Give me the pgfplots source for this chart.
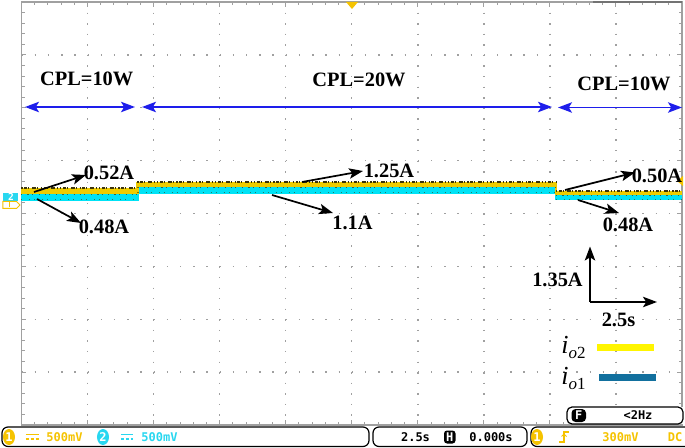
\documentclass[border=0pt]{standalone}
\usepackage{pgfplots}
\pgfplotsset{compat=1.18}
\usepackage{fontspec}
\setmainfont{Liberation Serif}
\newfontfamily\scopefont{DejaVu Sans Mono}
\usetikzlibrary{arrows.meta}
\definecolor{trY}{RGB}{238,204,0}
\definecolor{trC}{RGB}{0,226,245}
\definecolor{trD}{RGB}{60,52,10}
\definecolor{arB}{RGB}{30,30,235}
\definecolor{legY}{RGB}{255,245,0}
\definecolor{legB}{RGB}{18,112,158}
\definecolor{stY}{RGB}{245,195,0}
\definecolor{stC}{RGB}{40,215,240}
\definecolor{gridG}{RGB}{160,160,160}
\tikzset{
  lbl/.style={font=\fontsize{10.2}{12}\selectfont\bfseries, inner sep=0pt},
  blk/.style={-{Stealth[length=7pt,width=5.2pt,inset=1.6pt]}, line width=0.85pt, black},
  blu/.style={{Stealth[length=7pt,width=5.2pt,inset=1.6pt]}-{Stealth[length=7pt,width=5.2pt,inset=1.6pt]}, line width=0.85pt, arB},
  mono/.style={font=\scopefont\bfseries\fontsize{6}{6}\selectfont, inner sep=0pt},
}
\newcommand{\dcsym}[3]{%
  \draw[#1, line width=0.8pt] (axis cs:#2,434.5) -- (axis cs:#3,434.5);
  \draw[#1, line width=0.8pt, dash pattern=on 1.6pt off 0.8pt] (axis cs:#2,439) -- (axis cs:#3,439);}
\begin{document}
\begin{tikzpicture}
\fill[white] (0,0) rectangle (342.5pt,224pt);
\begin{axis}[
  at={(10.75pt,11.5pt)}, anchor=south west,
  scale only axis, width=330.25pt, height=211.5pt,
  xmin=21.5, xmax=682, ymin=2, ymax=425, y dir=reverse,
  clip=false,
  axis line style={draw=gridG, line width=0.9pt},
  xtick={21.5,87.55,153.6,219.65,285.7,351.75,417.8,483.85,549.9,615.95,682},
  ytick={2,54.875,107.75,160.625,213.5,266.375,319.25,372.125,425},
  minor x tick num=4, minor y tick num=4,
  xticklabels={}, yticklabels={},
  tick align=inside, major tick length=2.5pt, minor tick length=1.6pt,
  tick style={draw=gridG, line width=0.5pt},
  grid=major,
  x grid style={draw=gridG, line width=0.7pt, dash pattern=on 0.7pt off 4.5875pt},
  y grid style={draw=gridG, line width=0.7pt, dash pattern=on 0.7pt off 5.905pt},
]
% ---- traces: cyan (i_o1)
\addplot[trC, line width=3.5pt, no marks] coordinates {(21.5,197.5) (137.5,197.5)};
\addplot[trC, line width=4pt, no marks] coordinates {(137.5,190.5) (556,190.5)};
\addplot[trC, line width=2.6pt, no marks] coordinates {(556,197.5) (682,197.5)};
\addplot[trC, line width=1pt, no marks] coordinates {(137.5,201) (137.5,186.5)};
\addplot[trC, line width=1pt, no marks] coordinates {(556,194.5) (556,200)};
% ---- traces: yellow (i_o2)
\addplot[trY, line width=3pt, no marks] coordinates {(21.5,191.5) (137.5,191.5)};
\addplot[trY, line width=2.5pt, no marks] coordinates {(137.5,184.5) (556,184.5)};
\addplot[trY, line width=2.4pt, no marks] coordinates {(556,193) (682,193)};
\addplot[trY, line width=1pt, no marks] coordinates {(137.5,194.5) (137.5,182)};
\addplot[trY, line width=1pt, no marks] coordinates {(556,182) (556,195)};
% ---- noise texture
\addplot[trD, line width=1pt, no marks, dash pattern=on 0.6pt off 0.8pt on 1.4pt off 0.5pt on 0.4pt off 1.6pt on 2pt off 0.7pt on 0.5pt off 1.2pt] coordinates {(21.5,188.5) (137.5,188.5)};
\addplot[trD, line width=1pt, no marks, dash pattern=on 0.6pt off 0.8pt on 1.4pt off 0.5pt on 0.4pt off 1.6pt on 2pt off 0.7pt on 0.5pt off 1.2pt] coordinates {(137.5,182.5) (556,182.5)};
\addplot[trD, line width=1pt, no marks, dash pattern=on 0.6pt off 0.8pt on 1.4pt off 0.5pt on 0.4pt off 1.6pt on 2pt off 0.7pt on 0.5pt off 1.2pt] coordinates {(556,191) (682,191)};
\addplot[trD, line width=0.6pt, no marks, opacity=0.7, dash pattern=on 0.5pt off 2.5pt on 0.8pt off 1.5pt on 0.4pt off 3pt] coordinates {(21.5,194.5) (137.5,194.5)};
\addplot[trD, line width=0.6pt, no marks, opacity=0.7, dash pattern=on 0.5pt off 2.5pt on 0.8pt off 1.5pt on 0.4pt off 3pt] coordinates {(137.5,187.5) (556,187.5)};
\addplot[trD, line width=0.6pt, no marks, opacity=0.7, dash pattern=on 0.5pt off 2.5pt on 0.8pt off 1.5pt on 0.4pt off 3pt] coordinates {(556,195.5) (682,195.5)};
\addplot[trD, line width=0.5pt, no marks, opacity=0.6, dash pattern=on 0.5pt off 3.5pt on 0.5pt off 2pt] coordinates {(21.5,200) (137.5,200)};
\addplot[trD, line width=0.5pt, no marks, opacity=0.6, dash pattern=on 0.5pt off 3.5pt on 0.5pt off 2pt] coordinates {(137.5,192.5) (556,192.5)};
\addplot[trD, line width=0.5pt, no marks, opacity=0.6, dash pattern=on 0.5pt off 3.5pt on 0.5pt off 2pt] coordinates {(556,199.5) (682,199.5)};
% ---- markers
\fill[stY] (axis cs:346,2) -- (axis cs:358,2) -- (axis cs:352,9) -- cycle;
\fill[stY] (axis cs:683,176) -- (axis cs:677,181) -- (axis cs:683,186) -- cycle;
\draw[black!55, line width=1pt] (axis cs:593,2) -- (axis cs:682,2);
\fill[stC] (axis cs:3.5,193) rectangle (axis cs:18.5,201.5);
\node[mono, white, font=\scopefont\bfseries\fontsize{4.8}{5}\selectfont] at (axis cs:11,197.2) {2};
\draw[stY, line width=0.5pt] (axis cs:3,201.5) -- (axis cs:16.5,201.5) -- (axis cs:20,205) -- (axis cs:16.5,208.5) -- (axis cs:3,208.5) -- cycle;
\draw[stY, line width=0.4pt] (axis cs:9,202.5) -- (axis cs:9,207.5);
% ---- CPL labels and blue arrows
\node[lbl] at (axis cs:86.7,79) {CPL=10W};
\node[lbl] at (axis cs:359,80) {CPL=20W};
\node[lbl] at (axis cs:624,84) {CPL=10W};
\draw[blu] (axis cs:25,107) -- (axis cs:135,107);
\draw[blu] (axis cs:142,107) -- (axis cs:552,107);
\draw[blu] (axis cs:558,107.5) -- (axis cs:682,107.5);
% ---- current annotations
\draw[blk] (axis cs:34,192) -- (axis cs:86,175);
\node[lbl] at (axis cs:109,172.5) {0.52A};
\draw[blk] (axis cs:37,199) -- (axis cs:81,223);
\node[lbl] at (axis cs:104,226.5) {0.48A};
\draw[blk] (axis cs:302,182) -- (axis cs:363,171);
\node[lbl] at (axis cs:389,171) {1.25A};
\draw[blk] (axis cs:272,195) -- (axis cs:333,213);
\node[lbl] at (axis cs:352.5,223) {1.1A};
\draw[blk] (axis cs:565,190) -- (axis cs:635,172.5);
\node[lbl] at (axis cs:657,176) {0.50A};
\draw[blk] (axis cs:578,200) -- (axis cs:619,213);
\node[lbl] at (axis cs:628,225) {0.48A};
% ---- scale arrows
\draw[blk] (axis cs:590,302) -- (axis cs:590,246.5);
\draw[blk] (axis cs:589.6,302) -- (axis cs:657,302);
\node[lbl] at (axis cs:557.5,280) {1.35A};
\node[lbl] at (axis cs:618.5,320) {2.5s};
% ---- legend
\node[inner sep=0pt, anchor=base] at (axis cs:573.5,353) {\fontsize{13}{14}\selectfont\itshape i\raisebox{-0.45ex}{\fontsize{8.5}{9}\selectfont o\upshape 2}};
\fill[legY] (axis cs:597,344) rectangle (axis cs:654,351);
\node[inner sep=0pt, anchor=base] at (axis cs:573.5,384) {\fontsize{13}{14}\selectfont\itshape i\raisebox{-0.45ex}{\fontsize{8.5}{9}\selectfont o\upshape 1}};
\fill[legB] (axis cs:599,373.5) rectangle (axis cs:656,380.5);
% ---- F box
\fill[white] (axis cs:567,407) rectangle (axis cs:683,424);
\draw[black, line width=0.6pt, rounded corners=2.5pt] (axis cs:567,407) rectangle (axis cs:683,424);
\fill[black, rounded corners=2pt] (axis cs:571.5,409) rectangle (axis cs:586,422);
\node[mono, white] at (axis cs:578.8,415.5) {F};
\node[mono] at (axis cs:638,415.5) {<2Hz};
% ---- status bar
\draw[black, line width=0.6pt, rounded corners=3pt] (axis cs:2,427) rectangle (axis cs:369,446.5);
\draw[black, line width=0.6pt, rounded corners=3pt] (axis cs:373,427) rectangle (axis cs:527,446.5);
\draw[black, line width=0.6pt, rounded corners=3pt] (axis cs:531,427) rectangle (axis cs:695,446.5);
\fill[stY] (axis cs:9,437) ellipse [x radius=3pt, y radius=4pt];
\node[mono, white] at (axis cs:9,437) {1};
\dcsym{stY}{26}{39}
\node[mono, stY] at (axis cs:64.5,437) {500mV};
\fill[stC] (axis cs:103,437) ellipse [x radius=3pt, y radius=4pt];
\node[mono, white] at (axis cs:103,437) {2};
\dcsym{stC}{121}{133}
\node[mono, stC] at (axis cs:159.5,437) {500mV};
\node[mono] at (axis cs:415.5,437) {2.5s};
\fill[black, rounded corners=1.5pt] (axis cs:444,430.5) rectangle (axis cs:455.5,443.5);
\node[mono, white] at (axis cs:449.8,437) {H};
\node[mono] at (axis cs:491,437) {0.000s};
\fill[stY] (axis cs:537,437) ellipse [x radius=3pt, y radius=4pt];
\node[mono, white] at (axis cs:537,437) {1};
\draw[stY, line width=0.6pt] (axis cs:559,442) -- (axis cs:564,442) -- (axis cs:564,432) -- (axis cs:569,432);
\draw[stY, line width=0.5pt] (axis cs:561.5,436.5) -- (axis cs:564,434) -- (axis cs:566.5,436.5);
\node[mono, stY] at (axis cs:620.5,437) {300mV};
\node[mono, stY] at (axis cs:675,437) {DC};
\end{axis}
\pgfresetboundingbox
\path (0,0) rectangle (342.5pt,224pt);
\end{tikzpicture}
\end{document}
